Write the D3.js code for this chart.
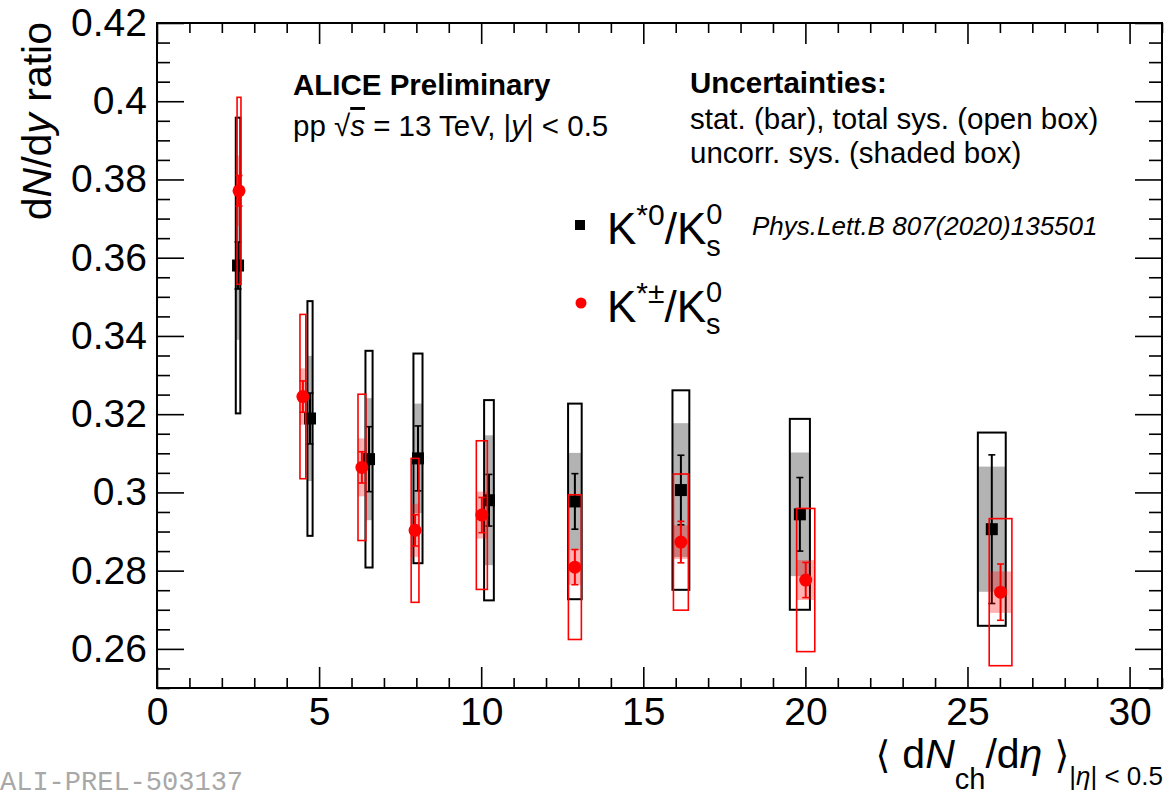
<!DOCTYPE html>
<html>
<head>
<meta charset="utf-8">
<script src="https://cdn.jsdelivr.net/npm/d3@7"></script>
<style>
  html, body { margin: 0; padding: 0; background: #fff; }
  svg { display: block; font-family: "Liberation Sans", Arial, Helvetica, sans-serif; }
</style>
</head>
<body>
<svg id="chart" width="1166" height="798"></svg>
<script>
// K*0/K0s ratio (published reference), pp 13 TeV
const kStar0X      = [2.50, 4.72, 6.54, 8.05, 10.24, 12.89, 16.16, 19.83, 25.75];
const kStar0XErr   = [0.07, 0.08, 0.11, 0.14, 0.15, 0.21, 0.26, 0.31, 0.43];
const kStar0Ratio  = [0.3580, 0.3189, 0.3085, 0.3087, 0.2980, 0.2977, 0.3006, 0.2944, 0.2906];
const kStar0Stat   = [0.0060, 0.0065, 0.0083, 0.0083, 0.0066, 0.0071, 0.0089, 0.0094, 0.0190];
const kStar0Uncorr = [0.0190, 0.0160, 0.0156, 0.0140, 0.0166, 0.0124, 0.0171, 0.0158, 0.0160];
const kStar0Sys    = [0.0378, 0.0300, 0.0277, 0.0268, 0.0256, 0.0250, 0.0255, 0.0244, 0.0247];

// K*±/K0s ratio (this measurement)
const kStarPmX      = [2.53, 4.50, 6.32, 7.96, 10.02, 12.89, 16.16, 20.01, 26.02];
const kStarPmXErr   = [0.06, 0.09, 0.12, 0.12, 0.17, 0.20, 0.23, 0.28, 0.35];
const kStarPmRatio  = [0.3771, 0.3245, 0.3064, 0.2903, 0.2942, 0.2809, 0.2873, 0.2776, 0.2745];
const kStarPmStat   = [0.0039, 0.0040, 0.0040, 0.0040, 0.0045, 0.0045, 0.0053, 0.0045, 0.0072];
const kStarPmUncorr = [0.0090, 0.0072, 0.0074, 0.0068, 0.0060, 0.0045, 0.0043, 0.0051, 0.0053];
const kStarPmSys    = [0.0239, 0.0210, 0.0187, 0.0184, 0.0190, 0.0185, 0.0174, 0.0183, 0.0188];

// Axis ticks
const yMajorTicks = [0.26, 0.28, 0.30, 0.32, 0.34, 0.36, 0.38, 0.40, 0.42];
const yTickLabels = ["0.26", "0.28", "0.3", "0.32", "0.34", "0.36", "0.38", "0.4", "0.42"];
const xMajorTicks = [0, 5, 10, 15, 20, 25, 30];
const xTickLabels = ["0", "5", "10", "15", "20", "25", "30"];

const svg = d3.select("#chart");
const frame = { left: 157, right: 1162, top: 23, bottom: 688 };

const x = d3.scaleLinear().domain([0, 31]).range([frame.left, frame.right]);
const y = d3.scaleLinear().domain([0.25, 0.42]).range([frame.bottom, frame.top]);

const yMinor = d3.range(0.25, 0.4201, 0.005).map(v => +v.toFixed(3)).filter(v => !yMajorTicks.some(m => Math.abs(m - v) < 1e-6));
const xMinor = d3.range(0, 31.01, 1).filter(v => v % 5 !== 0);

function styleAxis(g) {
  g.select(".domain").remove();
  g.selectAll(".tick line").attr("stroke", "#000").attr("stroke-width", 1.6);
  g.selectAll(".tick text").attr("fill", "#000")
    .style("font-family", "'Liberation Sans', Arial, sans-serif");
}

// Left axis: major ticks with labels, minor ticks without
svg.append("g").attr("transform", `translate(${frame.left},0)`)
  .call(d3.axisLeft(y).tickValues(yMajorTicks).tickSize(-27).tickPadding(10)
    .tickFormat((d, i) => yTickLabels[i]))
  .call(styleAxis)
  .call(g => g.selectAll(".tick text").style("font-size", "39px"));
svg.append("g").attr("transform", `translate(${frame.left},0)`)
  .call(d3.axisLeft(y).tickValues(yMinor).tickSize(-13).tickFormat(""))
  .call(styleAxis);
// Right axis
svg.append("g").attr("transform", `translate(${frame.right},0)`)
  .call(d3.axisRight(y).tickValues(yMajorTicks).tickSize(-27).tickFormat(""))
  .call(styleAxis);
svg.append("g").attr("transform", `translate(${frame.right},0)`)
  .call(d3.axisRight(y).tickValues(yMinor).tickSize(-13).tickFormat(""))
  .call(styleAxis);
// Bottom axis
svg.append("g").attr("transform", `translate(0,${frame.bottom})`)
  .call(d3.axisBottom(x).tickValues(xMajorTicks).tickSize(-21).tickPadding(9)
    .tickFormat((d, i) => xTickLabels[i]))
  .call(styleAxis)
  .call(g => g.selectAll(".tick text").style("font-size", "39px"));
svg.append("g").attr("transform", `translate(0,${frame.bottom})`)
  .call(d3.axisBottom(x).tickValues(xMinor).tickSize(-10).tickFormat(""))
  .call(styleAxis);
// Top axis
svg.append("g").attr("transform", `translate(0,${frame.top})`)
  .call(d3.axisTop(x).tickValues(xMajorTicks).tickSize(-21).tickFormat(""))
  .call(styleAxis);
svg.append("g").attr("transform", `translate(0,${frame.top})`)
  .call(d3.axisTop(x).tickValues(xMinor).tickSize(-10).tickFormat(""))
  .call(styleAxis);

// Frame
svg.append("rect")
  .attr("x", frame.left).attr("y", frame.top)
  .attr("width", frame.right - frame.left).attr("height", frame.bottom - frame.top)
  .attr("fill", "none").attr("stroke", "#000").attr("stroke-width", 2);

function buildSeries(xs, xe, v, st, un, sy) {
  return xs.map((d, i) => ({ x: d, xe: xe[i], v: v[i], stat: st[i], unc: un[i], sys: sy[i] }));
}
const seriesK0 = buildSeries(kStar0X, kStar0XErr, kStar0Ratio, kStar0Stat, kStar0Uncorr, kStar0Sys);
const seriesKpm = buildSeries(kStarPmX, kStarPmXErr, kStarPmRatio, kStarPmStat, kStarPmUncorr, kStarPmSys);

function drawSeries(data, opt) {
  const g = svg.append("g");
  // shaded box: uncorrelated systematics
  g.selectAll("rect.unc").data(data).join("rect").attr("class", "unc")
    .attr("x", d => x(d.x - d.xe)).attr("width", d => x(d.x + d.xe) - x(d.x - d.xe))
    .attr("y", d => y(d.v + d.unc)).attr("height", d => y(d.v - d.unc) - y(d.v + d.unc))
    .attr("fill", opt.shade).attr("fill-opacity", opt.shadeOpacity);
  // open box: total systematics
  g.selectAll("rect.sys").data(data).join("rect").attr("class", "sys")
    .attr("x", d => x(d.x - d.xe)).attr("width", d => x(d.x + d.xe) - x(d.x - d.xe))
    .attr("y", d => y(d.v + d.sys)).attr("height", d => y(d.v - d.sys) - y(d.v + d.sys))
    .attr("fill", "none").attr("stroke", opt.color).attr("stroke-width", opt.boxStroke);
  // statistical bars with caps
  g.selectAll("line.stat").data(data).join("line").attr("class", "stat")
    .attr("x1", d => x(d.x)).attr("x2", d => x(d.x))
    .attr("y1", d => y(d.v + d.stat)).attr("y2", d => y(d.v - d.stat))
    .attr("stroke", opt.color).attr("stroke-width", 2);
  ["hi", "lo"].forEach(side => {
    g.selectAll("line.cap" + side).data(data).join("line").attr("class", "cap" + side)
      .attr("x1", d => x(d.x) - 3.5).attr("x2", d => x(d.x) + 3.5)
      .attr("y1", d => y(side === "hi" ? d.v + d.stat : d.v - d.stat))
      .attr("y2", d => y(side === "hi" ? d.v + d.stat : d.v - d.stat))
      .attr("stroke", opt.color).attr("stroke-width", 1.6);
  });
  // markers
  if (opt.marker === "square") {
    g.selectAll("rect.mk").data(data).join("rect").attr("class", "mk")
      .attr("x", d => x(d.x) - 6).attr("y", d => y(d.v) - 6)
      .attr("width", 12).attr("height", 12).attr("fill", opt.color);
  } else {
    g.selectAll("circle.mk").data(data).join("circle").attr("class", "mk")
      .attr("cx", d => x(d.x)).attr("cy", d => y(d.v)).attr("r", 6.5).attr("fill", opt.color);
  }
}

drawSeries(seriesK0, { color: "#000", shade: "#808080", shadeOpacity: 0.6, boxStroke: 2, marker: "square" });
drawSeries(seriesKpm, { color: "#ff0000", shade: "#ff0000", shadeOpacity: 0.3, boxStroke: 1.6, marker: "circle" });

// Y title
svg.append("text")
  .attr("transform", "translate(51,22) rotate(-90)")
  .attr("text-anchor", "end").style("font-size", "41px")
  .call(t => {
    t.append("tspan").text("d");
    t.append("tspan").style("font-style", "italic").text("N");
    t.append("tspan").text("/d");
    t.append("tspan").style("font-style", "italic").text("y");
    t.append("tspan").text(" ratio");
  });

// X title
svg.append("text")
  .attr("x", 1163).attr("y", 768).attr("text-anchor", "end").style("font-size", "41px")
  .call(t => {
    t.append("tspan").style("font-family", "'DejaVu Sans', sans-serif").style("font-size", "38px").text("\u27E8 ");
    t.append("tspan").text("d");
    t.append("tspan").style("font-style", "italic").text("N");
    t.append("tspan").attr("dy", 21).style("font-size", "29px").text("ch");
    t.append("tspan").attr("dy", -21).text("/d");
    t.append("tspan").style("font-style", "italic").text("\u03B7");
    t.append("tspan").style("font-family", "'DejaVu Sans', sans-serif").style("font-size", "38px").text(" \u27E9");
    t.append("tspan").attr("dy", 17).style("font-size", "26px").text("|");
    t.append("tspan").style("font-size", "26px").style("font-style", "italic").text("\u03B7");
    t.append("tspan").style("font-size", "26px").text("| < 0.5");
  });

// Header texts
svg.append("text").attr("x", 293).attr("y", 95)
  .style("font-size", "29.5px").style("font-weight", "bold").text("ALICE Preliminary");
svg.append("text").attr("x", 293).attr("y", 136).style("font-size", "29.5px")
  .call(t => {
    t.append("tspan").text("pp \u221A");
    t.append("tspan").style("font-style", "italic").style("text-decoration", "overline").text("s");
    t.append("tspan").text(" = 13 TeV, |");
    t.append("tspan").style("font-style", "italic").text("y");
    t.append("tspan").text("| < 0.5");
  });
svg.append("text").attr("x", 690).attr("y", 93)
  .style("font-size", "29.5px").style("font-weight", "bold").text("Uncertainties:");
svg.append("text").attr("x", 690).attr("y", 129).style("font-size", "29.5px")
  .text("stat. (bar), total sys. (open box)");
svg.append("text").attr("x", 690).attr("y", 163).style("font-size", "29.5px")
  .text("uncorr. sys. (shaded box)");

// Legend labels: K with superscript, then K with stacked super/subscript
function legendLabel(xPos, yBase, sup1) {
  const t = svg.append("text").attr("x", xPos).attr("y", yBase).style("font-size", "44px");
  t.append("tspan").text("K");
  t.append("tspan").attr("dy", -19).style("font-size", "30px").text(sup1);
  t.append("tspan").attr("dy", 19).text("/K");
  const w = t.node().getComputedTextLength();
  t.append("tspan").attr("dy", -20).style("font-size", "29px").text("0");
  t.append("tspan").attr("x", xPos + w).attr("dy", 32).style("font-size", "29px").text("s");
}
svg.append("rect").attr("x", 575).attr("y", 220).attr("width", 10).attr("height", 10).attr("fill", "#000");
legendLabel(607, 244, "*0");
svg.append("text").attr("x", 752).attr("y", 235)
  .style("font-size", "26px").style("font-style", "italic").text("Phys.Lett.B 807(2020)135501");
svg.append("circle").attr("cx", 581).attr("cy", 303).attr("r", 5.5).attr("fill", "#ff0000");
legendLabel(607, 322, "*\u00B1");

// Preliminary figure identifier
svg.append("text").attr("x", 0).attr("y", 790)
  .style("font-family", "'Liberation Mono', 'DejaVu Sans Mono', monospace")
  .style("font-size", "27px").attr("fill", "#a8a8a8").text("ALI-PREL-503137");
</script>
</body>
</html>
